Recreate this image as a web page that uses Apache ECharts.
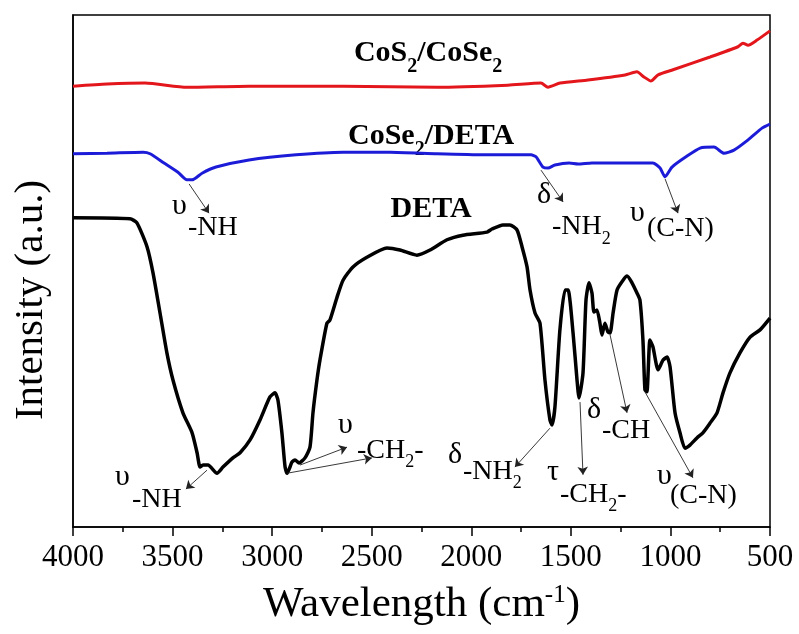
<!DOCTYPE html>
<html><head><meta charset="utf-8">
<script src="https://cdn.jsdelivr.net/npm/echarts@6/dist/echarts.min.js"></script>
<style>html,body{margin:0;padding:0;background:#fff}#c{width:799px;height:634px}</style>
</head><body><div id="c"></div><script>
// ---- data (wavenumber cm^-1, intensity a.u.) ----
const xTicks = [4000, 3500, 3000, 2500, 2000, 1500, 1000, 500];

const cos2X = [4000,3829,3638,3428,3116,2644,2172,1816,1650,1615,1554,1414,1228,1168,1133,1098,1062,987,801,661,636,610,565,500];
const cos2Y = [86.1,86.5,86.7,85.9,86.1,86.1,85.9,86.3,86.7,85.9,86.7,87.3,88.3,88.9,87.9,87.1,88.3,89.3,91.8,93.8,94.5,94.1,95.1,96.9];

const coseX = [4000,3829,3648,3613,3543,3473,3428,3402,3352,3282,3116,2880,2644,2408,2172,1936,1700,1675,1640,1615,1580,1509,1464,1394,1228,1088,1052,1027,992,922,851,781,731,681,610,540,500];
const coseY = [72.9,73.0,73.2,72.9,71.1,69.3,67.8,67.8,69.1,70.3,71.7,72.7,73.2,73.2,72.9,72.7,72.7,72.3,70.3,70.1,70.7,71.1,70.9,71.1,71.1,71.1,70.1,68.4,70.3,72.3,74.0,74.2,73.0,73.6,75.6,77.9,78.7];

const detaX = [4000,3714,3679,3628,3598,3563,3528,3498,3448,3402,3377,3362,3347,3322,3277,3247,3197,3161,3111,3061,3011,2986,2971,2951,2935,2925,2900,2885,2865,2835,2810,2795,2775,2760,2725,2710,2674,2644,2594,2524,2423,2358,2273,2207,2122,2042,1921,1896,1841,1806,1770,1745,1720,1705,1680,1655,1630,1605,1595,1580,1555,1529,1514,1489,1469,1459,1439,1424,1409,1394,1384,1369,1354,1344,1329,1314,1303,1288,1268,1238,1218,1193,1168,1153,1138,1128,1118,1103,1088,1062,1037,1017,1002,977,952,927,902,867,837,801,766,736,701,651,600,550,500];
const detaY = [60.4,60.2,59.4,54.7,49.6,41.8,33.9,28.7,22.3,18.4,14.5,11.7,12.1,12.1,10.5,11.7,13.5,14.5,17.0,20.9,25.4,26.2,24.8,18.4,11.7,10.5,12.7,13.1,12.5,13.5,15.6,22.3,28.7,32.6,39.8,40.4,44.9,48.2,50.8,52.7,54.5,54.1,53.1,54.1,56.1,57.0,57.6,58.2,59.0,59.0,58.0,54.7,50.8,46.3,41.8,39.8,28.7,20.9,19.9,23.4,38.5,46.3,46.3,37.9,28.7,25.2,30.1,44.3,47.7,45.7,42.0,42.4,39.8,37.5,39.8,38.1,37.9,41.8,46.3,48.2,49.0,47.7,45.7,44.3,36.5,26.8,26.4,36.5,35.2,30.7,32.6,33.2,31.3,22.3,18.4,15.4,16.0,17.4,18.4,20.3,22.3,26.2,30.1,34.0,37.1,38.5,40.8];

// ---- annotations (data coordinates) ----
const seriesLabels = [
  {parts:[['CoS',0],['2',1],['/CoSe',0],['2',1]], at:[2217,92.6]},
  {parts:[['CoSe',0],['2',1],['/DETA',0]], at:[2202,76.4]},
  {parts:[['DETA',0]], at:[2202,62.1]}
];
const bandLabels = [
  {greek:'υ', g:[3503,62.7], parts:[['-NH',0]], m:[3423,58.4], arrows:[[[3417,67.0],[3317,61.3]]]},
  {greek:'δ', g:[1670,64.8], parts:[['-NH',0],['2',1]], m:[1595,58.6], arrows:[[[1650,69.7],[1539,63.5]]]},
  {greek:'υ', g:[1203,61.3], parts:[['(C-N)',0]], m:[1118,58.2], arrows:[[[1027,68.0],[962,61.3]]]},
  {greek:'υ', g:[3789,9.8], parts:[['-NH',0]], m:[3704,5.3], arrows:[[[3327,11.1],[3433,7.4]]]},
  {greek:'υ', g:[2669,19.9], parts:[['-CH',0],['2',1],['-',0]], m:[2574,15.0], arrows:[[[2860,12.1],[2624,15.6]],[[2925,10.5],[2499,13.5]]]},
  {greek:'δ', g:[2117,14.1], parts:[['-NH',0],['2',1]], m:[2042,10.9], arrows:[[[1605,19.3],[1781,11.7]]]},
  {greek:'τ', g:[1620,10.7], parts:[['-CH',0],['2',1],['-',0]], m:[1555,6.4], arrows:[[[1454,24.4],[1439,10.2]]]},
  {greek:'δ', g:[1419,22.9], parts:[['-CH',0]], m:[1344,18.8], arrows:[[[1303,37.5],[1218,22.3]]]},
  {greek:'υ', g:[1067,10.0], parts:[['(C-N)',0]], m:[1002,6.1], arrows:[[[1128,26.4],[887,9.6]]]}
];

const FONT = 'Liberation Serif, Times New Roman, serif';
const zip = (a, b) => a.map((v, i) => [v, b[i]]);

const chart = echarts.init(document.getElementById('c'), null, {renderer: 'canvas'});
const arrowData = [];
bandLabels.forEach(b => b.arrows.forEach(a => arrowData.push([{coord: a[0]}, {coord: a[1]}])));

chart.setOption({
  animation: false,
  backgroundColor: '#fff',
  grid: {left: 73, right: 29, top: 15, bottom: 107, show: true, borderColor: '#000', borderWidth: 1.5,
         containLabel: false, outerBoundsMode: 'none'},
  xAxis: {
    type: 'value', min: 500, max: 4000, interval: 500, inverse: true,
    axisLine: {lineStyle: {color: '#000', width: 1.5}},
    axisTick: {length: 9, lineStyle: {color: '#000', width: 1.5}},
    minorTick: {show: true, splitNumber: 2, length: 5, lineStyle: {color: '#000', width: 1.5}},
    splitLine: {show: false}, minorSplitLine: {show: false},
    axisLabel: {fontFamily: FONT, fontSize: 31, color: '#000', margin: 15,
                formatter: v => xTicks.includes(v) ? String(v) : ''},
    name: '{t|Wavelength (cm}{s|-1}{t|)}', nameLocation: 'middle', nameGap: 56,
    nameTextStyle: {rich: {
      t: {fontFamily: FONT, fontSize: 43, color: '#000'},
      s: {fontFamily: FONT, fontSize: 25, color: '#000', verticalAlign: 'top'}
    }}
  },
  yAxis: {
    type: 'value', min: 0, max: 100,
    axisLine: {show: true, lineStyle: {color: '#000', width: 1.5}},
    axisTick: {show: false}, axisLabel: {show: false}, splitLine: {show: false},
    name: 'Intensity (a.u.)', nameLocation: 'middle', nameGap: 21,
    nameTextStyle: {fontFamily: FONT, fontSize: 41, color: '#000', padding: [0, 58, 0, 0]}
  },
  series: [
    {name: 'CoS2/CoSe2', type: 'line', data: zip(cos2X, cos2Y), showSymbol: false, smooth: 0.2, silent: true,
     lineStyle: {color: '#e3161c', width: 3}},
    {name: 'CoSe2/DETA', type: 'line', data: zip(coseX, coseY), showSymbol: false, smooth: 0.2, silent: true,
     lineStyle: {color: '#1c1cd8', width: 3}},
    {name: 'DETA', type: 'line', data: zip(detaX, detaY), showSymbol: false, smooth: 0.2, silent: true,
     lineStyle: {color: '#000', width: 3.5},
     markLine: {silent: true, symbol: ['none', 'arrow'], symbolSize: 8, animation: false,
       lineStyle: {color: '#222', width: 0.9, type: 'solid'}, label: {show: false},
       emphasis: {disabled: true}, data: arrowData}}
  ]
});

// ---- text annotations built from data coordinates ----
const ctx = document.createElement('canvas').getContext('2d');
function measure(t, size, weight) { ctx.font = (weight || 'normal') + ' ' + size + 'px ' + FONT; return ctx.measureText(t).width; }
function pieces(parts, x, y, size, subSize, subDy, weight, center) {
  const widths = parts.map(p => measure(p[0], p[1] ? subSize : size, weight));
  let cx = center ? x - widths.reduce((a, b) => a + b, 0) / 2 : x;
  const out = [];
  parts.forEach((p, i) => {
    const s = p[1] ? subSize : size;
    out.push({type: 'text', x: cx, y: y + (p[1] ? subDy : 0), silent: true,
      style: {text: p[0], fontFamily: FONT, fontSize: s, fontWeight: weight || 'normal', fill: '#000',
              textAlign: 'left', textVerticalAlign: 'middle', align: 'left', verticalAlign: 'middle'}});
    cx += widths[i];
  });
  return out;
}
const px = c => chart.convertToPixel({gridIndex: 0}, c);
let graphics = [];
seriesLabels.forEach(l => { const p = px(l.at); graphics = graphics.concat(pieces(l.parts, p[0], p[1], 30, 20, 14, 'bold', true)); });
bandLabels.forEach(b => {
  const g = px(b.g), m = px(b.m);
  graphics = graphics.concat(pieces([[b.greek, 0]], g[0], g[1], 30, 18, 0, 'normal', false));
  graphics = graphics.concat(pieces(b.parts, m[0], m[1], 28, 18, 12, 'normal', false));
});
chart.setOption({graphic: {elements: graphics}});
</script></body></html>
